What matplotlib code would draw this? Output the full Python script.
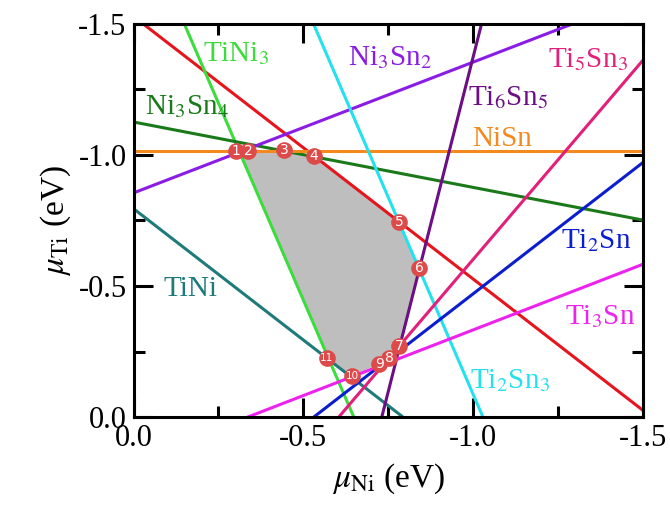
import numpy as np
import matplotlib
matplotlib.use("Agg")
import matplotlib.pyplot as plt
from matplotlib.ticker import FormatStrFormatter, MultipleLocator

plt.rcParams['font.family'] = ['Liberation Serif', 'DejaVu Serif']
plt.rcParams['mathtext.fontset'] = 'stix'
plt.rcParams['axes.unicode_minus'] = False

# boundary lines: mu_Ti = a + b * mu_Ni
line_names = ["edge", "TiNi3", "TiNi", "Ni3Sn4", "NiSn", "Ni3Sn2",
              "Ti6Sn5", "Ti2Sn3", "Ti5Sn3", "Ti2Sn", "Ti3Sn"]
line_a = [-1.527, -1.947, -0.795, -1.125, -1.015, -0.855,
          3.724, -3.088, 0.915, 0.529, 0.1665]
line_b = [-1.0, -3.0, -1.0, -0.249, 0.0, 0.498,
          5.097, -3.0, 1.517, 1.0, 0.5]
line_colors = ["#e8141c", "#3ddc3d", "#1f7a7a", "#1a7a1a", "#f28a1e", "#8a1ce6",
               "#6c0f85", "#25e0ef", "#e2207a", "#0b1ecf", "#ee22ee"]

# labels (text, mu_Ni, mu_Ti of baseline start)
label_text = [r"TiNi$_3$", r"Ni$_3$Sn$_4$", r"Ni$_3$Sn$_2$", r"Ti$_5$Sn$_3$",
              r"Ti$_6$Sn$_5$", "NiSn", r"Ti$_2$Sn", r"Ti$_3$Sn",
              r"Ti$_2$Sn$_3$", "TiNi"]
label_x = [-0.205, -0.034, -0.632, -1.221, -0.986, -0.996, -1.26, -1.27, -0.99, -0.088]
label_y = [-1.357, -1.155, -1.342, -1.334, -1.190, -1.034, -0.645, -0.355, -0.113, -0.4625]
label_colors = ["#3ddc3d", "#1a7a1a", "#8a1ce6", "#e2207a", "#6c0f85",
                "#f28a1e", "#0b1ecf", "#ee22ee", "#25e0ef", "#1f7a7a"]

# stable region (grey polygon)
region_x = [-0.311, -0.444, -0.535, -0.7815, -0.841, -0.782, -0.752, -0.723, -0.644, -0.576]
region_y = [-1.015, -1.015, -0.992, -0.7455, -0.566, -0.273, -0.225, -0.204, -0.158, -0.219]

# numbered points
pt_x = [-0.302, -0.338, -0.444, -0.531, -0.782, -0.841, -0.782, -0.752, -0.723, -0.644, -0.569]
pt_y = [-1.014, -1.015, -1.018, -0.995, -0.745, -0.568, -0.273, -0.225, -0.204, -0.158, -0.228]

fig = plt.figure(figsize=(6.7, 5.12), dpi=100)
ax = fig.add_axes([0.1993, 0.1846, 0.7604, 0.7695])

ax.fill(region_x, region_y, color="#bebebe", lw=0, zorder=1)

xs = np.linspace(0.05, -1.55, 200)
for a, b, c in zip(line_a, line_b, line_colors):
    ax.plot(xs, a + b * xs, color=c, lw=2.2, zorder=2)

for t, x, y, c in zip(label_text, label_x, label_y, label_colors):
    ax.text(x, y, t, color=c, fontsize=21, ha="left", va="baseline", zorder=3)

for i, (x, y) in enumerate(zip(pt_x, pt_y)):
    ax.plot(x, y, "o", ms=12, color="#dc4a4a", mec="none", zorder=4)
    ax.text(x, y, str(i + 1), color="white", fontsize=10 if i < 9 else 7.5,
            family="DejaVu Sans", ha="center", va="center", zorder=5)

ax.set_xlim(0, -1.5)
ax.set_ylim(0, -1.5)
ax.xaxis.set_major_locator(MultipleLocator(0.5))
ax.yaxis.set_major_locator(MultipleLocator(0.5))
ax.xaxis.set_minor_locator(MultipleLocator(0.25))
ax.yaxis.set_minor_locator(MultipleLocator(0.25))
ax.xaxis.set_major_formatter(FormatStrFormatter("%.1f"))
ax.yaxis.set_major_formatter(FormatStrFormatter("%.1f"))
ax.tick_params(which="both", direction="in", top=True, right=True, width=2.2,
               labelsize=22)
ax.tick_params(which="major", length=13.5, pad=5)
ax.tick_params(which="minor", length=8)
for s in ax.spines.values():
    s.set_linewidth(2.2)

ax.set_xlabel(r"$\mu_{\rm Ni}$ (eV)", fontsize=24, labelpad=6)
ax.set_ylabel(r"$\mu_{\rm Ti}$ (eV)", fontsize=24, labelpad=4)

fig.savefig("out.png", dpi=100)
